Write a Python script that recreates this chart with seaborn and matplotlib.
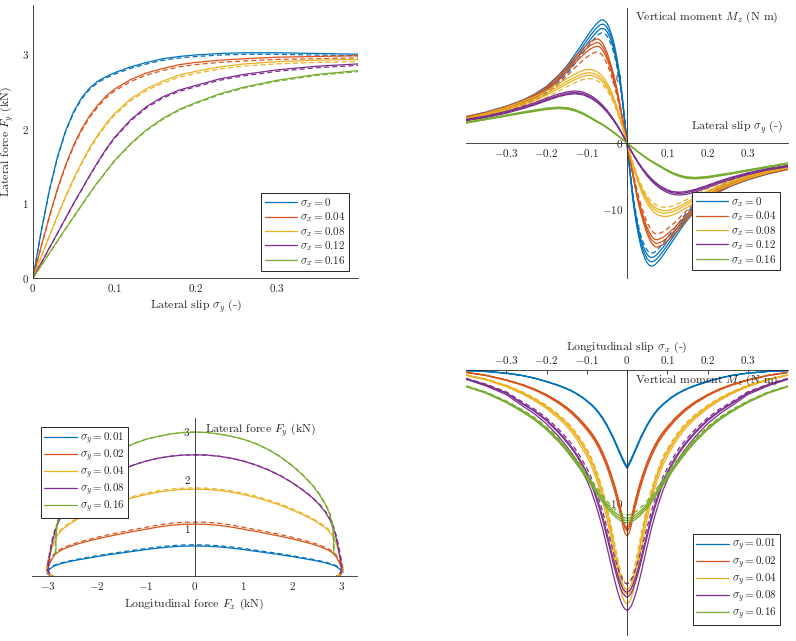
import numpy as np
import matplotlib
matplotlib.use('Agg')
import matplotlib.pyplot as plt
import seaborn as sns
from matplotlib.lines import Line2D

sns.set_theme(style='white')
plt.rcParams['font.family'] = ['serif']
plt.rcParams['font.serif'] = ['cmr10']
plt.rcParams['mathtext.fontset'] = 'cm'
plt.rcParams['axes.formatter.use_mathtext'] = True

colors = ['#0072BD', '#D95319', '#EDB120', '#7E2F8E', '#77AC30']
ink = '#262626'

# ---- panel 1: lateral force vs lateral slip, per longitudinal slip
sx_labels = ['0', '0.04', '0.08', '0.12', '0.16']
p1_slip = [0, .01, .02, .03, .04, .05, .06, .07, .08, .09, .10, .12, .14, .16, .18, .20, .23, .26, .30, .35, .40]
fy_sx0 = [0, 0.62, 1.17, 1.62, 1.97, 2.23, 2.42, 2.55, 2.64, 2.70, 2.75, 2.83, 2.89, 2.94, 2.97, 2.99, 3.01, 3.02, 3.02, 3.01, 3.0]
fy_sx004 = [0, 0.42, 0.82, 1.19, 1.51, 1.78, 2.0, 2.18, 2.32, 2.44, 2.53, 2.66, 2.75, 2.81, 2.86, 2.89, 2.92, 2.94, 2.96, 2.97, 2.98]
fy_sx008 = [0, 0.28, 0.56, 0.83, 1.09, 1.33, 1.55, 1.75, 1.92, 2.07, 2.2, 2.4, 2.54, 2.64, 2.72, 2.77, 2.83, 2.87, 2.9, 2.92, 2.93]
fy_sx012 = [0, 0.2, 0.4, 0.6, 0.8, 1.0, 1.19, 1.38, 1.56, 1.73, 1.88, 2.12, 2.3, 2.43, 2.52, 2.58, 2.67, 2.73, 2.79, 2.84, 2.87]
fy_sx016 = [0, 0.165, 0.33, 0.495, 0.66, 0.82, 0.98, 1.14, 1.29, 1.43, 1.57, 1.8, 1.99, 2.14, 2.26, 2.35, 2.47, 2.56, 2.65, 2.73, 2.78]
p1_dash_ratio = [0.993, 0.99, 0.99, 0.993, 0.995]

# ---- panel 2: vertical moment vs lateral slip (right half, magnitudes)
p2_slip = [0, .005, .01, .015, .02, .025, .03, .035, .04, .045, .05, .055, .06, .065, .07, .075, .08,
           .09, .1, .11, .12, .13, .14, .15, .17, .2, .23, .26, .3, .35, .4]
mz_sx0 = [0, 3.1, 6.1, 8.8, 11.0, 12.9, 14.5, 15.8, 16.8, 17.6, 18.2, 18.55, 18.7, 18.65, 18.45, 18.15, 17.8,
          17.0, 16.1, 15.2, 14.3, 13.4, 12.5, 11.7, 10.3, 8.6, 7.4, 6.5, 5.6, 4.7, 4.0]
mz_sx004 = [0, 1.7, 3.4, 5.1, 6.7, 8.2, 9.6, 10.8, 11.9, 12.9, 13.8, 14.5, 15.1, 15.5, 15.75, 15.8, 15.7,
            15.4, 14.9, 14.3, 13.7, 13.0, 12.3, 11.6, 10.2, 8.5, 7.35, 6.45, 5.55, 4.65, 4.0]
mz_sx008 = [0, 1.2, 2.4, 3.5, 4.5, 5.5, 6.4, 7.2, 7.95, 8.6, 9.15, 9.65, 10.05, 10.4, 10.65, 10.85, 11.0,
            11.15, 11.15, 11.0, 10.75, 10.45, 10.1, 9.75, 9.0, 7.9, 7.0, 6.3, 5.4, 4.5, 3.8]
mz_sx012 = [0, 0.6, 1.2, 1.75, 2.3, 2.8, 3.3, 3.75, 4.2, 4.6, 5.0, 5.35, 5.7, 6.0, 6.3, 6.55, 6.8,
            7.2, 7.5, 7.75, 7.85, 7.9, 7.85, 7.75, 7.45, 6.8, 6.1, 5.5, 4.8, 4.1, 3.6]
mz_sx016 = [0, 0.25, 0.5, 0.75, 1.0, 1.25, 1.5, 1.73, 1.96, 2.18, 2.4, 2.6, 2.8, 3.0, 3.18, 3.35, 3.52,
            3.9, 4.25, 4.57, 4.85, 5.08, 5.25, 5.37, 5.45, 5.3, 5.0, 4.7, 4.25, 3.7, 3.15]
p2_solid_ratio = [[1, 0.965, 0.93], [1, 0.965, 0.93], [1, 0.955, 0.92], [1, 0.97, 0.945], [1, 0.98, 0.96]]
p2_dash_ratio = [0.895, 0.875, 0.875, 0.955, 0.97]

# ---- panel 3: friction ellipse (right half, mirrored)
sy_labels = ['0.01', '0.02', '0.04', '0.08', '0.16']
fx_sy001 = [0, .25, .5, .75, 1.0, 1.25, 1.5, 1.75, 2.0, 2.2, 2.4, 2.55, 2.7, 2.8, 2.87, 2.93, 2.98, 3.02, 3.0, 2.95, 2.9]
fy_sy001 = [0.62, 0.615, 0.6, 0.575, 0.545, 0.51, 0.475, 0.44, 0.4, 0.365, 0.33, 0.3, 0.265, 0.235, 0.21, 0.17, 0.13, 0.08, 0.04, 0.015, 0.0]
fx_sy002 = [0, .25, .5, .75, 1.0, 1.25, 1.5, 1.75, 2.0, 2.2, 2.4, 2.55, 2.7, 2.8, 2.87, 2.92, 2.97, 3.02, 3.0, 2.95, 2.9]
fy_sy002 = [1.07, 1.065, 1.045, 1.01, 0.965, 0.92, 0.87, 0.82, 0.765, 0.715, 0.66, 0.61, 0.55, 0.49, 0.43, 0.35, 0.25, 0.13, 0.06, 0.02, 0.0]
fx_sy004 = [0, .25, .5, .75, 1.0, 1.25, 1.5, 1.75, 2.0, 2.2, 2.4, 2.55, 2.7, 2.8, 2.87, 2.92, 2.97, 3.02, 3.0, 2.95, 2.92]
fy_sy004 = [1.79, 1.785, 1.765, 1.73, 1.68, 1.62, 1.545, 1.46, 1.36, 1.27, 1.17, 1.08, 0.97, 0.86, 0.74, 0.58, 0.4, 0.18, 0.08, 0.03, 0.0]
fx_sy008 = [0, .25, .5, .75, 1.0, 1.25, 1.5, 1.75, 2.0, 2.2, 2.4, 2.55, 2.67, 2.77, 2.84, 2.89, 2.93, 2.96, 2.99, 3.0, 2.97]
fy_sy008 = [2.5, 2.495, 2.47, 2.43, 2.37, 2.29, 2.19, 2.07, 1.92, 1.78, 1.62, 1.47, 1.32, 1.15, 0.98, 0.8, 0.62, 0.45, 0.28, 0.14, 0.05]
fx_sy016 = [0, .25, .5, .75, 1.0, 1.25, 1.5, 1.75, 2.0, 2.2, 2.4, 2.55, 2.67, 2.75, 2.8, 2.83, 2.84, 2.84]
fy_sy016 = [2.97, 2.96, 2.93, 2.88, 2.82, 2.73, 2.61, 2.46, 2.27, 2.09, 1.88, 1.68, 1.48, 1.3, 1.12, 0.92, 0.7, 0.45]
p3_dash_ratio = [1.04, 1.04, 1.015, 1.0, 1.0]

# ---- panel 4: vertical moment vs longitudinal slip (right half, magnitudes)
p4_slip = [0, .005, .01, .015, .02, .025, .03, .035, .04, .045, .05, .06, .07, .08, .09, .1, .11, .12, .13,
           .14, .15, .17, .2, .23, .26, .3, .35, .4]
mz_sy001 = [7.4, 7.15, 6.85, 6.5, 6.15, 5.8, 5.45, 5.1, 4.8, 4.5, 4.2, 3.7, 3.25, 2.9, 2.6, 2.35, 2.1, 1.9, 1.72,
            1.56, 1.42, 1.18, 0.88, 0.62, 0.42, 0.24, 0.11, 0.04]
mz_sy002 = [12.5, 12.3, 11.8, 11.1, 10.4, 9.8, 9.2, 8.7, 8.2, 7.75, 7.3, 6.55, 5.9, 5.35, 4.9, 4.5, 4.15, 3.8, 3.5,
            3.2, 2.95, 2.5, 1.95, 1.5, 1.15, 0.78, 0.42, 0.18]
mz_sy004 = [17.6, 17.5, 17.2, 16.7, 16.0, 15.2, 14.4, 13.5, 12.7, 11.9, 11.2, 9.9, 8.8, 7.9, 7.1, 6.5, 5.95, 5.45, 5.0,
            4.6, 4.25, 3.65, 2.9, 2.3, 1.8, 1.25, 0.75, 0.4]
mz_sy008 = [18.1, 18.0, 17.8, 17.45, 17.0, 16.5, 15.9, 15.3, 14.6, 13.95, 13.3, 12.0, 10.9, 9.9, 9.0, 8.3, 7.7, 7.1, 6.6,
            6.15, 5.75, 5.0, 4.05, 3.3, 2.7, 1.85, 1.2, 0.7]
mz_sy016 = [11.5, 11.48, 11.43, 11.36, 11.27, 11.16, 11.03, 10.88, 10.72, 10.55, 10.37, 9.98, 9.55, 9.1, 8.65, 8.2, 7.75,
            7.3, 6.9, 6.5, 6.1, 5.4, 4.5, 3.75, 3.15, 2.45, 1.75, 1.25]
p4_solid_ratio = [[1, 0.99, 0.98], [1, 0.97, 0.95], [1, 0.96, 0.94], [1, 0.945, 0.925], [1, 0.985, 0.97]]
p4_dash_ratio = [0.985, 0.96, 0.915, 0.89, 0.95]

LW = 0.9
DASH = (0, (4, 2.5))


def line(ax, x, y, c, ls='-'):
    sns.lineplot(x=np.asarray(x), y=np.asarray(y), color=c, lw=LW, linestyle=ls,
                 ax=ax, sort=False, estimator=None, legend=False)


def style_axis(ax):
    for s in ax.spines.values():
        s.set_color(ink)
        s.set_linewidth(0.6)
    ax.tick_params(direction='in', length=3, width=0.6, colors=ink, labelsize=8,
                   labelcolor=ink, pad=3)


def add_legend(ax, labels, sym, loc, anchor):
    handles = [Line2D([], [], color=c, lw=LW) for c in colors]
    texts = [r'$\sigma_%s = %s$' % (sym, v) for v in labels]
    leg = ax.legend(handles, texts, loc=loc, bbox_to_anchor=anchor, bbox_transform=fig.transFigure,
                    borderaxespad=0, frameon=True, fancybox=False, fontsize=8,
                    handlelength=2.9, handletextpad=0.3, labelspacing=0.05, borderpad=0.3)
    leg.get_frame().set_edgecolor(ink)
    leg.get_frame().set_linewidth(0.7)
    leg.get_frame().set_facecolor('white')
    leg.get_frame().set_alpha(1)


W, H = 796, 641
fig = plt.figure(figsize=(7.96, 6.41), dpi=100)

def px_axes(x0, x1, y0, y1):
    return fig.add_axes([x0 / W, 1 - y1 / H, (x1 - x0) / W, (y1 - y0) / H])

# ---------- panel 1
ax1 = px_axes(33, 358, 5, 278)
for fy, c, r in zip([fy_sx0, fy_sx004, fy_sx008, fy_sx012, fy_sx016], colors, p1_dash_ratio):
    line(ax1, p1_slip, fy, c)
    line(ax1, p1_slip, np.array(fy) * r, c, DASH)
ax1.set_xlim(0, 0.4)
ax1.set_ylim(0, 3.66)
ax1.set_xticks([0, 0.1, 0.2, 0.3], [r'$0$', r'$0.1$', r'$0.2$', r'$0.3$'])
ax1.set_yticks([0, 1, 2, 3], [r'$0$', r'$1$', r'$2$', r'$3$'])
ax1.spines['top'].set_visible(False)
ax1.spines['right'].set_visible(False)
style_axis(ax1)
ax1.set_xlabel(r'Lateral slip $\sigma_y$ (-)', fontsize=8.5, color=ink, labelpad=3)
ax1.set_ylabel(r'Lateral force $F_y$ (kN)', fontsize=8.5, color=ink, labelpad=4)
add_legend(ax1, sx_labels, 'x', 'lower right', (349 / W, 1 - 271 / H))

# ---------- panel 2
ax2 = px_axes(466, 788, 8, 278)
for m, c, rs, rd in zip([mz_sx0, mz_sx004, mz_sx008, mz_sx012, mz_sx016], colors,
                        p2_solid_ratio, p2_dash_ratio):
    xs = np.concatenate([-np.array(p2_slip)[::-1], np.array(p2_slip)[1:]])
    ys = np.concatenate([np.array(m)[::-1], -np.array(m)[1:]])
    for r in rs:
        line(ax2, xs, ys * r, c)
    line(ax2, xs, ys * rd, c, DASH)
ax2.set_xlim(-0.4, 0.4)
ax2.set_ylim(-20.5, 20.5)
ax2.spines['left'].set_position(('data', 0))
ax2.spines['bottom'].set_position(('data', 0))
ax2.spines['top'].set_visible(False)
ax2.spines['right'].set_visible(False)
ax2.set_xticks([-0.3, -0.2, -0.1, 0, 0.1, 0.2, 0.3],
               [r'$-0.3$', r'$-0.2$', r'$-0.1$', '', r'$0.1$', r'$0.2$', r'$0.3$'])
ax2.set_yticks([-20, -10, 0, 10, 20], ['', r'$-10$', r'$0$', r'$10$', ''])
style_axis(ax2)
ax2.text(0.02, 19.1, r'Vertical moment $M_z$ (N m)', fontsize=8.5, color=ink, ha='left', va='center')
ax2.text(0.388, 2.4, r'Lateral slip $\sigma_y$ (-)', fontsize=8.5, color=ink, ha='right', va='center')
add_legend(ax2, sx_labels, 'x', 'lower right', (780 / W, 1 - 270 / H))

# ---------- panel 3
ax3 = px_axes(32, 357, 418, 576)
for fx, fy, c, rd in zip([fx_sy001, fx_sy002, fx_sy004, fx_sy008, fx_sy016],
                         [fy_sy001, fy_sy002, fy_sy004, fy_sy008, fy_sy016], colors, p3_dash_ratio):
    xs = np.concatenate([-np.array(fx)[::-1], np.array(fx)[1:]])
    ys = np.concatenate([np.array(fy)[::-1], np.array(fy)[1:]])
    line(ax3, xs, ys, c)
    line(ax3, xs * 1.005, ys * rd, c, DASH)
ax3.set_xlim(-3.33, 3.32)
ax3.set_ylim(0, 3.26)
ax3.spines['left'].set_position(('data', 0))
ax3.spines['top'].set_visible(False)
ax3.spines['right'].set_visible(False)
ax3.set_xticks([-3, -2, -1, 0, 1, 2, 3],
               [r'$-3$', r'$-2$', r'$-1$', r'$0$', r'$1$', r'$2$', r'$3$'])
ax3.set_yticks([1, 2, 3], [r'$1$', r'$2$', r'$3$'])
style_axis(ax3)
ax3.set_xlabel(r'Longitudinal force $F_x$ (kN)', fontsize=8.5, color=ink, labelpad=3)
ax3.text(0.2, 3.0, r'Lateral force $F_y$ (kN)', fontsize=8.5, color=ink, ha='left', va='center')
add_legend(ax3, sy_labels, 'y', 'upper left', (41 / W, 1 - 427 / H))

# ---------- panel 4
ax4 = px_axes(466, 788, 370, 635)
for m, c, rs, rd in zip([mz_sy001, mz_sy002, mz_sy004, mz_sy008, mz_sy016], colors,
                        p4_solid_ratio, p4_dash_ratio):
    xs = np.concatenate([-np.array(p4_slip)[::-1], np.array(p4_slip)[1:]])
    ys = -np.concatenate([np.array(m)[::-1], np.array(m)[1:]])
    for r in rs:
        line(ax4, xs, ys * r, c)
    line(ax4, xs, ys * rd, c, DASH)
ax4.set_xlim(-0.4, 0.4)
ax4.set_ylim(-19.95, 0)
ax4.spines['left'].set_position(('data', 0))
ax4.spines['bottom'].set_visible(False)
ax4.spines['right'].set_visible(False)
ax4.xaxis.tick_top()
ax4.xaxis.set_label_position('top')
ax4.set_xticks([-0.3, -0.2, -0.1, 0, 0.1, 0.2, 0.3],
               [r'$-0.3$', r'$-0.2$', r'$-0.1$', r'$0$', r'$0.1$', r'$0.2$', r'$0.3$'])
ax4.set_yticks([-10], [r'$-10$'])
style_axis(ax4)
ax4.set_xlabel(r'Longitudinal slip $\sigma_x$ (-)', fontsize=8.5, color=ink, labelpad=3)
ax4.text(0.02, -0.8, r'Vertical moment $M_z$ (N m)', fontsize=8.5, color=ink, ha='left', va='center')
add_legend(ax4, sy_labels, 'y', 'lower right', (780 / W, 1 - 625 / H))

fig.savefig('out.png', dpi=100)
